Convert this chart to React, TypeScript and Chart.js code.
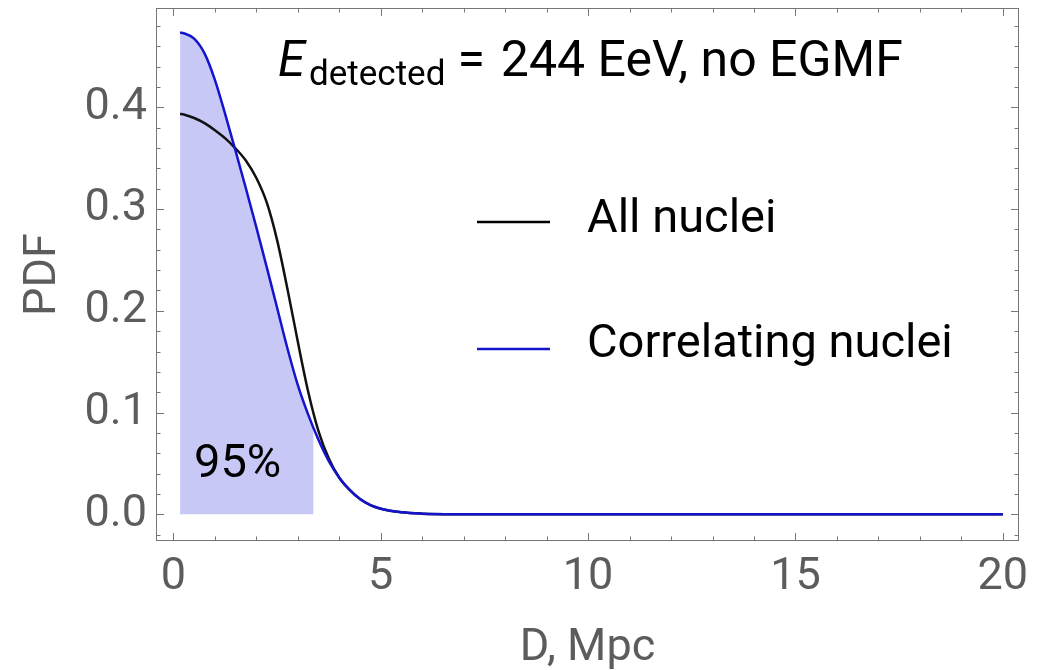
import React, { useEffect, useRef } from 'react';
import { Chart, registerables } from 'chart.js';

Chart.register(...registerables);

// ---- data ----
const distances = [0.16, 0.25, 0.5, 0.75, 1.0, 1.25, 1.5, 1.75, 2.0, 2.25, 2.5, 2.75, 3.0, 3.25, 3.5, 3.75, 4.0, 4.25, 4.5, 4.75, 5.0, 5.5, 6.0, 7.0, 8.0, 10.0, 12.0, 15.0, 20.0];
const allNuclei = [0.3935, 0.393, 0.3895, 0.3845, 0.3775, 0.3695, 0.3595, 0.3475, 0.3305, 0.3065, 0.2695, 0.2215, 0.1695, 0.1205, 0.0815, 0.0545, 0.036, 0.024, 0.015, 0.009, 0.0055, 0.002, 0.0007, 0.0001, 0, 0, 0, 0, 0];
const correlatingNuclei = [0.4735, 0.4728, 0.4675, 0.453, 0.427, 0.393, 0.357, 0.320, 0.282, 0.243, 0.203, 0.163, 0.127, 0.098, 0.073, 0.052, 0.036, 0.024, 0.015, 0.009, 0.0055, 0.002, 0.0007, 0.0001, 0, 0, 0, 0, 0];
const shadeEndX = 3.38;
const shadeEndY = 0.085;
const shadeLabel = '95%';

const xTickValues = [0, 5, 10, 15, 20];
const xTickLabels = ['0', '5', '10', '15', '20'];
const yTickValues = [0, 0.1, 0.2, 0.3, 0.4];
const yTickLabels = ['0.0', '0.1', '0.2', '0.3', '0.4'];
const xMinorTicks = [0, 1, 2, 3, 4, 5, 6, 7, 8, 9, 10, 11, 12, 13, 14, 15, 16, 17, 18, 19, 20];
const yMinorTicks = [-0.02, 0, 0.02, 0.04, 0.06, 0.08, 0.1, 0.12, 0.14, 0.16, 0.18, 0.2, 0.22, 0.24, 0.26, 0.28, 0.3, 0.32, 0.34, 0.36, 0.38, 0.4, 0.42, 0.44, 0.46, 0.48];
const xRange = [-0.42, 20.39];
const yRange = [-0.0262, 0.4976];

const seriesNames = ['All nuclei', 'Correlating nuclei'];
const xTitle = 'D, Mpc';
const yTitle = 'PDF';

const GREY = '#5c5c5c';
const FRAME = '#777777';
const BLUE = '#1414cc';
const SHADE = 'rgb(200,200,247)';
const FONT = 'Roboto';

const decorPlugin = {
  id: 'decor',
  afterDatasetsDraw(chart: any) {
    const { ctx, chartArea: a, scales } = chart;
    const xs = scales.x;
    const ys = scales.y;
    ctx.save();
    // frame
    ctx.strokeStyle = FRAME;
    ctx.lineWidth = 1;
    ctx.strokeRect(Math.round(a.left) + 0.5, Math.round(a.top) + 0.5, Math.round(a.right - a.left) - 1, Math.round(a.bottom - a.top) - 1);
    // ticks (inside the frame, all four sides)
    ctx.beginPath();
    xMinorTicks.forEach((v) => {
      const major = xTickValues.includes(v);
      const len = major ? 8 : 4.5;
      const px = Math.round(xs.getPixelForValue(v)) + 0.5;
      ctx.moveTo(px, a.bottom);
      ctx.lineTo(px, a.bottom - len);
      ctx.moveTo(px, a.top);
      ctx.lineTo(px, a.top + len);
    });
    yMinorTicks.forEach((v) => {
      const major = yTickValues.some((t) => Math.abs(t - v) < 1e-9);
      const len = major ? 8 : 4.5;
      const py = Math.round(ys.getPixelForValue(v)) + 0.5;
      ctx.moveTo(a.left, py);
      ctx.lineTo(a.left + len, py);
      ctx.moveTo(a.right, py);
      ctx.lineTo(a.right - len, py);
    });
    ctx.stroke();

    // axis titles
    ctx.fillStyle = GREY;
    ctx.font = `45px ${FONT}`;
    ctx.textAlign = 'center';
    ctx.textBaseline = 'alphabetic';
    ctx.fillText(xTitle, (a.left + a.right) / 2, 660);
    ctx.save();
    ctx.translate(55, (a.top + a.bottom) / 2);
    ctx.rotate(-Math.PI / 2);
    ctx.fillText(yTitle, 0, 0);
    ctx.restore();

    // title annotation
    ctx.fillStyle = '#000';
    ctx.textAlign = 'left';
    let cx = 278;
    ctx.font = `italic 49px ${FONT}`;
    ctx.fillText('E', cx, 76);
    cx += ctx.measureText('E').width + 4;
    ctx.font = `35px ${FONT}`;
    ctx.fillText('detected', cx, 85);
    cx += ctx.measureText('detected').width + 12;
    ctx.font = `50px ${FONT}`;
    ctx.fillText('=', cx, 76);
    cx += ctx.measureText('=').width + 16;
    ctx.fillText('244 EeV, no EGMF', cx, 76);

    // legend
    ctx.lineWidth = 2.5;
    ctx.strokeStyle = '#000';
    ctx.beginPath();
    ctx.moveTo(477, 222);
    ctx.lineTo(550, 222);
    ctx.stroke();
    ctx.strokeStyle = BLUE;
    ctx.beginPath();
    ctx.moveTo(477, 349);
    ctx.lineTo(550, 349);
    ctx.stroke();
    ctx.font = `47px ${FONT}`;
    ctx.fillStyle = '#000';
    ctx.fillText(seriesNames[0], 587, 232);
    ctx.fillText(seriesNames[1], 587, 357);

    // 95% label
    ctx.font = `47px ${FONT}`;
    ctx.fillText(shadeLabel, 194, 477);
    ctx.restore();
  },
};

export default function App() {
  const ref = useRef<HTMLCanvasElement | null>(null);

  useEffect(() => {
    if (!ref.current) return;
    const blackPts = distances.map((d, i) => ({ x: d, y: allNuclei[i] }));
    const bluePts = distances.map((d, i) => ({ x: d, y: correlatingNuclei[i] }));
    const shadePts = [...bluePts.filter((p) => p.x < shadeEndX), { x: shadeEndX, y: shadeEndY }];

    const chart = new Chart(ref.current, {
      type: 'line',
      data: {
        datasets: [
          {
            label: seriesNames[1],
            data: bluePts,
            borderColor: BLUE,
            borderWidth: 2.5,
            pointRadius: 0,
            cubicInterpolationMode: 'monotone',
            fill: false,
            order: 0,
          },
          {
            label: seriesNames[0],
            data: blackPts,
            borderColor: '#111',
            borderWidth: 2.5,
            pointRadius: 0,
            cubicInterpolationMode: 'monotone',
            fill: false,
            order: 1,
          },
          {
            label: 'shade',
            data: shadePts,
            borderWidth: 0,
            borderColor: 'rgba(0,0,0,0)',
            backgroundColor: SHADE,
            pointRadius: 0,
            cubicInterpolationMode: 'monotone',
            fill: 'origin',
            order: 2,
          },
        ],
      },
      options: {
        responsive: false,
        animation: false,
        devicePixelRatio: 1,
        layout: { padding: { top: 8, right: 21, left: 0, bottom: 0 } },
        plugins: { legend: { display: false }, tooltip: { enabled: false }, title: { display: false } },
        scales: {
          x: {
            type: 'linear',
            min: xRange[0],
            max: xRange[1],
            grid: { display: false, drawTicks: false },
            border: { display: false },
            afterBuildTicks: (s: any) => {
              s.ticks = xTickValues.map((v) => ({ value: v }));
            },
            afterFit: (s: any) => {
              s.height = 129;
              s.paddingLeft = 0;
              s.paddingRight = 0;
            },
            ticks: {
              autoSkip: false,
              maxRotation: 0,
              padding: 10,
              color: GREY,
              font: { family: FONT, size: 45 },
              callback: (_v: any, i: number) => xTickLabels[i],
            },
          },
          y: {
            type: 'linear',
            min: yRange[0],
            max: yRange[1],
            grid: { display: false, drawTicks: false },
            border: { display: false },
            afterBuildTicks: (s: any) => {
              s.ticks = yTickValues.map((v) => ({ value: v }));
            },
            afterFit: (s: any) => {
              s.width = 156;
              s.paddingTop = 0;
              s.paddingBottom = 0;
            },
            ticks: {
              autoSkip: false,
              padding: 9,
              color: GREY,
              font: { family: FONT, size: 45 },
              callback: (_v: any, i: number) => yTickLabels[i],
            },
          },
        },
      },
      plugins: [decorPlugin],
    } as any);
    return () => chart.destroy();
  }, []);

  return (
    <div style={{ position: 'absolute', left: 0, top: 0, width: 1040, height: 670, background: '#fff' }}>
      <canvas ref={ref} width={1040} height={670} style={{ display: 'block' }} />
    </div>
  );
}
